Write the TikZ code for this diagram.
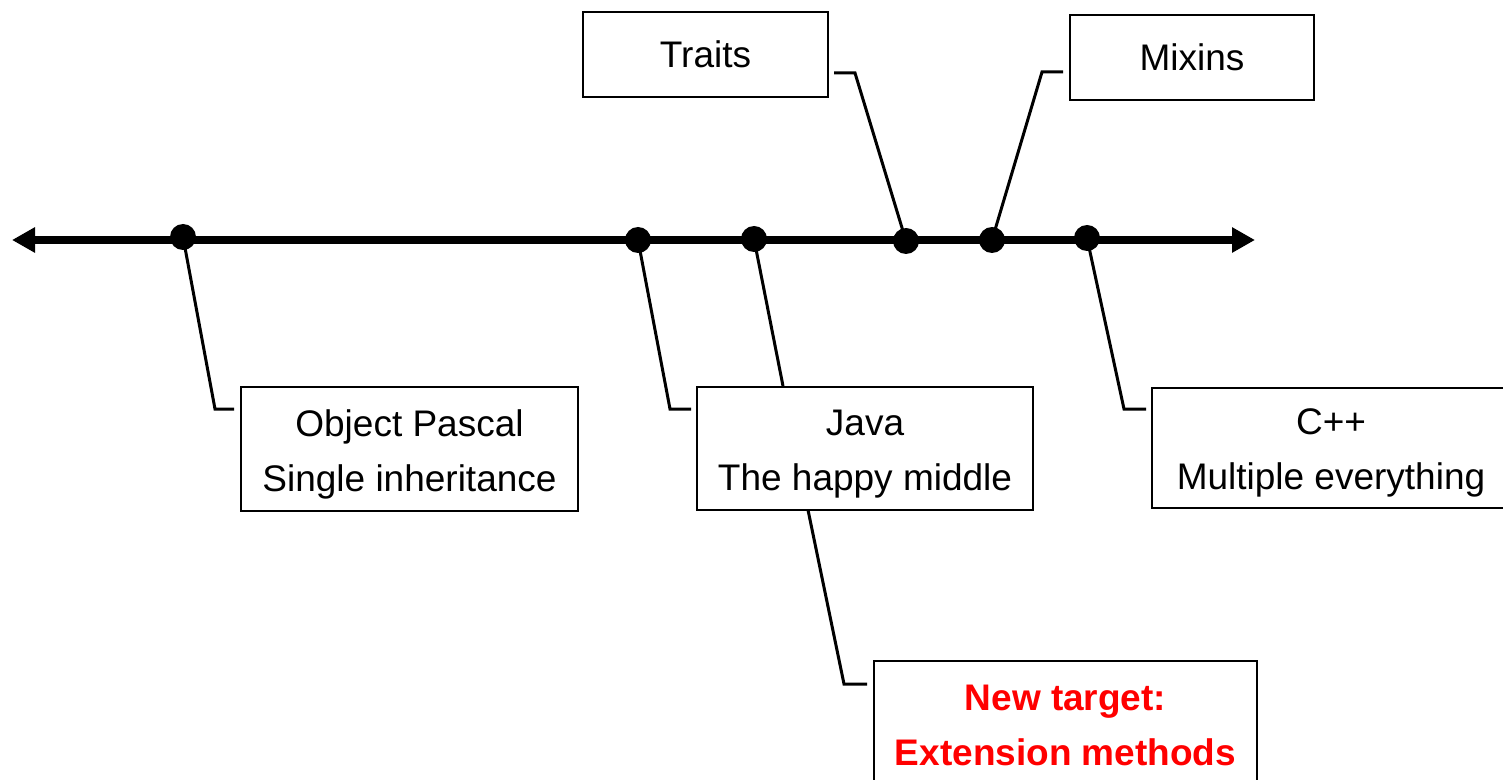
\documentclass[tikz,border=0pt]{standalone}
\usepackage{fontspec}
\setmainfont{Liberation Sans}
\usetikzlibrary{arrows.meta}
\newcommand{\mytstrut}{\rule{0pt}{18.5pt}}
\begin{document}
\begin{tikzpicture}[x=0.5pt,y=-0.5pt,
  box/.style={draw=black,line width=1pt,fill=white,align=center,inner sep=0pt,
    font=\fontsize{18.5pt}{27.5pt}\selectfont},
  dotn/.style={circle,fill=black,inner sep=0pt,minimum size=13pt},
  callout/.style={line width=1.5pt,line join=miter},
  axis/.style={line width=4pt,{Triangle[length=11.5pt,width=12pt]}-{Triangle[length=11.5pt,width=12pt]}}]
\useasboundingbox (0,0) rectangle (1503,780);
% axis
\coordinate (axL) at (12,240);
\coordinate (axR) at (1255,240);
\draw[axis] (axL) -- (axR);
% boxes
\node[box,minimum width=122.5pt,minimum height=42.5pt] (traits) at (705.5,54.5) {Traits};
\node[box,minimum width=122pt,minimum height=42.5pt] (mixins) at (1192,57.5) {Mixins};
\node[box,minimum width=168.5pt,minimum height=62pt] (pascal) at (409.5,449) {\mytstrut Object Pascal\\Single inheritance};
\node[box,minimum width=168pt,minimum height=61.5pt] (java) at (865,448.5) {\mytstrut Java\\The happy middle};
\node[box,minimum width=179pt,minimum height=60pt] (cpp) at (1331,447.5) {\mytstrut C++\\Multiple everything};
\node[box,minimum width=191.5pt,minimum height=64pt,text=red,font=\fontsize{18.5pt}{27.5pt}\selectfont\bfseries] (newt) at (1065.5,725) {New target:\\Extension methods};
% callout bend points
\coordinate (b1) at (215,409);  \coordinate (e1) at (234,409);
\coordinate (b2) at (670,409);  \coordinate (e2) at (691,409);
\coordinate (e3) at (783,386);
\coordinate (s4) at (808,510);  \coordinate (b4) at (844,684); \coordinate (e4) at (867,684);
\coordinate (b5) at (1124,409); \coordinate (e5) at (1146,409);
\coordinate (b6) at (855,73);   \coordinate (e6) at (834,73);
\coordinate (b7) at (1042,72);  \coordinate (e7) at (1063,72);
% dots
\node[dotn] (d1) at (183,237) {};
\node[dotn] (d2) at (638,240) {};
\node[dotn] (d3) at (754,239) {};
\node[dotn] (d4) at (906,241) {};
\node[dotn] (d5) at (992,240) {};
\node[dotn] (d6) at (1087,238) {};
% callouts
\draw[callout] (d1.center) -- (b1) -- (e1);
\draw[callout] (d2.center) -- (b2) -- (e2);
\draw[callout] (d3.center) -- (e3);
\draw[callout] (s4) -- (b4) -- (e4);
\draw[callout] (d6.center) -- (b5) -- (e5);
\draw[callout] (d4.center) -- (b6) -- (e6);
\draw[callout] (d5.center) -- (b7) -- (e7);
\end{tikzpicture}
\end{document}
